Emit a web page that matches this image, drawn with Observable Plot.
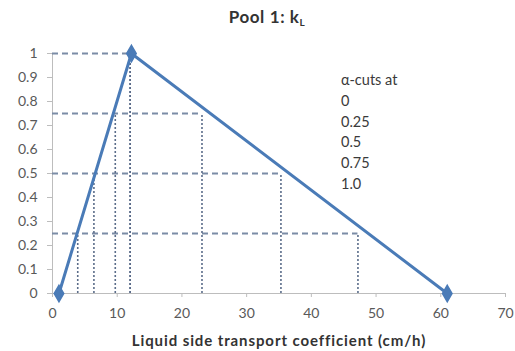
<!DOCTYPE html>
<html>
<head>
<meta charset="utf-8">
<script src="https://cdn.jsdelivr.net/npm/d3@7"></script>
<script src="https://cdn.jsdelivr.net/npm/@observablehq/plot@0.6"></script>
<style>
  body { margin: 0; background: #fff; font-family: Lato, "Open Sans", sans-serif; }
  #wrap { position: relative; width: 515px; height: 351px; }
  #title { height: 35px; text-align: center; font-weight: bold; font-size: 17px; letter-spacing: 0.6px; color: #333; line-height: 34px; padding-left: 19px; box-sizing: border-box; }
  #title sub { font-size: 10px; vertical-align: -3px; }
  #legend { position: absolute; left: 341px; top: 70px; font-size: 14.5px; line-height: 20.8px; color: #3a3a3a; }
</style>
</head>
<body>
<div id="wrap">
  <div id="title">Pool 1: k<sub>L</sub></div>
  <div id="chart"></div>
  <div id="legend"></div>
</div>
<script>
const triangleX = [1, 12.2, 61];
const triangleY = [0, 1, 0];
const alphaLevels = [0.25, 0.5, 0.75, 1];
const leftCuts = [3.9, 6.4, 9.7, 12.0];
const rightCuts = [47.2, 35.3, 23.1, 12.0];
const legendLines = ["α-cuts at", "0", "0.25", "0.5", "0.75", "1.0"];
const xTicks = [0, 10, 20, 30, 40, 50, 60, 70];
const yTicks = [0, 0.1, 0.2, 0.3, 0.4, 0.5, 0.6, 0.7, 0.8, 0.9, 1];
const xLabel = "Liquid side transport coefficient (cm/h)";

const tri = triangleX.map((x, i) => ({x, y: triangleY[i]}));
const hLines = alphaLevels.map((a, i) => ({a, x2: rightCuts[i]}));
const vLines = alphaLevels.flatMap((a, i) => [{a, x: leftCuts[i]}, {a, x: rightCuts[i]}]);

const chart = Plot.plot({
  width: 515,
  height: 316,
  marginLeft: 52,
  marginRight: 10,
  marginTop: 18,
  marginBottom: 58,
  style: {fontFamily: "Lato, 'Open Sans', sans-serif", fontSize: "14px", color: "#595959", background: "#fff"},
  x: {domain: [0, 70]},
  y: {domain: [0, 1]},
  marks: [
    Plot.ruleY([0], {x1: 0, x2: 70, stroke: "#bdbdbd", strokeWidth: 1}),
    Plot.ruleX([0], {y1: 0, y2: 1, stroke: "#bdbdbd", strokeWidth: 1}),
    Plot.axisX({ticks: xTicks, tickSize: 4, tickPadding: 11, stroke: "#bdbdbd", fill: "#595959",
      label: xLabel, labelAnchor: "center", labelArrow: "none", labelOffset: 52}),
    Plot.axisY({ticks: yTicks, tickSize: 5, tickPadding: 10, stroke: "#bdbdbd", fill: "#595959",
      tickFormat: d => d3.format("~g")(d), label: null}),
    Plot.ruleY(hLines, {y: "a", x1: 0, x2: "x2", stroke: "#7b8ca6", strokeWidth: 1.8, strokeDasharray: "6,4"}),
    Plot.ruleX(vLines, {x: "x", y1: 0, y2: "a", stroke: "#5b6d8a", strokeWidth: 1.6, strokeDasharray: "2,2"}),
    Plot.line(tri, {x: "x", y: "y", stroke: "#4a7bb7", strokeWidth: 3}),
    Plot.dot(tri, {x: "x", y: "y", symbol: "diamond", r: 5, fill: "#4a7bb7", stroke: "#4a7bb7"})
  ]
});
document.getElementById("chart").appendChild(chart);
d3.select(chart).select('[aria-label="x-axis label"] text')
  .style("font-weight", "bold").style("fill", "#333").style("font-size", "15px").style("letter-spacing", "0.9px");
d3.select("#legend").selectAll("div").data(legendLines).join("div").text(d => d);
</script>
</body>
</html>
